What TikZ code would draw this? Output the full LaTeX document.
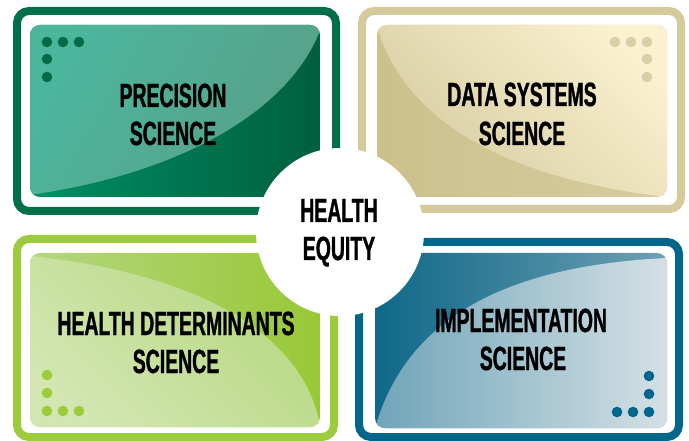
\documentclass[tikz,border=0pt]{standalone}
\usepackage{fontspec}
\newfontfamily\condfont[FakeStretch=0.58,FakeBold=1]{Liberation Sans}
\definecolor{tlframe}{HTML}{00704A}
\definecolor{trframe}{HTML}{D5CA9C}
\definecolor{blframe}{HTML}{9DCB3E}
\definecolor{brframe}{HTML}{00668A}
\definecolor{tldot}{HTML}{006B47}
\definecolor{trdot}{HTML}{D9CFA5}
\definecolor{bldot}{HTML}{9CCB3C}
\definecolor{brdot}{HTML}{00658A}
\begin{document}
\begin{tikzpicture}[x=1pt,y=-1pt,
  frameline/.style={line width=8pt, rounded corners=12pt},
  panel/.style={rounded corners=10pt},
  dot/.style={circle, inner sep=0pt, minimum size=10.6pt},
  lbl/.style={font=\condfont\bfseries\fontsize{33.5}{38}\selectfont, anchor=base, inner sep=0pt, text=black}]
\useasboundingbox (0,0) rectangle (689,441);
\fill[white] (0,0) rectangle (689,441);

% ---------- top left: precision science
\draw[frameline, draw=tlframe] (17,11) rectangle (336,211);
\begin{scope}
  \clip[panel] (30,25) rectangle (320,197);
  \shade[left color={rgb,255:red,0;green,142;blue,98}, right color={rgb,255:red,0;green,95;blue,63}] (30,25) rectangle (320,197);
  \shade[top color={rgb,255:red,76;green,182;blue,157}, bottom color={rgb,255:red,88;green,160;blue,136}, shading angle=60]
    (30,195) .. controls (190,172) and (295,105) .. (322,25) -- (322,20) -- (25,20) -- (25,200) -- cycle;
\end{scope}
\node[dot, fill=tldot] (tld1) at (47,42) {};
\node[dot, fill=tldot] (tld2) at (63,42) {};
\node[dot, fill=tldot] (tld3) at (79,42) {};
\node[dot, fill=tldot] (tld4) at (47,59) {};
\node[dot, fill=tldot] (tld5) at (47,77) {};

% ---------- top right: data systems science
\draw[frameline, draw=trframe] (362,11) rectangle (681,209);
\begin{scope}
  \clip[panel] (377,25) rectangle (667,197);
  \shade[left color={rgb,255:red,204;green,192;blue,140}, right color={rgb,255:red,214;green,204;blue,158}] (377,25) rectangle (667,197);
  \shade[top color={rgb,255:red,250;green,241;blue,208}, bottom color={rgb,255:red,214;green,203;blue,160}, shading angle=-45]
    (378,30) .. controls (410,130) and (520,180) .. (667,197) -- (672,197) -- (672,20) -- (378,20) -- cycle;
\end{scope}
\node[dot, fill=trdot] (trd1) at (615,42) {};
\node[dot, fill=trdot] (trd2) at (631,42) {};
\node[dot, fill=trdot] (trd3) at (647,42) {};
\node[dot, fill=trdot] (trd4) at (647,59) {};
\node[dot, fill=trdot] (trd5) at (647,77) {};

% ---------- bottom left: health determinants science
\draw[frameline, draw=blframe] (17,239) rectangle (334,437);
\begin{scope}
  \clip[panel] (30,253) rectangle (320,427);
  \shade[left color={rgb,255:red,180;green,214;blue,128}, right color={rgb,255:red,152;green,200;blue,54}] (30,253) rectangle (320,427);
  \shade[top color={rgb,255:red,181;green,216;blue,128}, bottom color={rgb,255:red,211;green,230;blue,178}, shading angle=-45]
    (30,256) .. controls (170,270) and (300,320) .. (320,425) -- (325,432) -- (25,432) -- (25,256) -- cycle;
\end{scope}
\node[dot, fill=bldot] (bld1) at (47,375) {};
\node[dot, fill=bldot] (bld2) at (47,393) {};
\node[dot, fill=bldot] (bld3) at (47,411) {};
\node[dot, fill=bldot] (bld4) at (63,411) {};
\node[dot, fill=bldot] (bld5) at (79,411) {};

% ---------- bottom right: implementation science
\draw[frameline, draw=brframe] (359,242) rectangle (679,437);
\begin{scope}
  \clip[panel] (375,253) rectangle (667,428);
  \shade[left color={rgb,255:red,15;green,104;blue,136}, right color={rgb,255:red,110;green,160;blue,180}] (375,253) rectangle (667,428);
  \shade[left color={rgb,255:red,110;green,164;blue,184}, right color={rgb,255:red,214;green,225;blue,230}]
    (376,425) .. controls (410,310) and (520,265) .. (667,258) -- (672,258) -- (672,433) -- (370,433) -- cycle;
\end{scope}
\node[dot, fill=brdot] (brd1) at (649,376) {};
\node[dot, fill=brdot] (brd2) at (649,394) {};
\node[dot, fill=brdot] (brd3) at (649,412) {};
\node[dot, fill=brdot] (brd4) at (633,412) {};
\node[dot, fill=brdot] (brd5) at (617,412) {};

% ---------- hub
\node[circle, fill=white, inner sep=0pt, minimum size=168pt] (hub) at (340,232) {};

% ---------- labels
\node[lbl] (tl1) at (173,107) {PRECISION};
\node[lbl] (tl2) at (173,145) {SCIENCE};
\node[lbl] (tr1) at (522,106) {DATA SYSTEMS};
\node[lbl] (tr2) at (522,145) {SCIENCE};
\node[lbl] (bl1) at (176,335) {HEALTH DETERMINANTS};
\node[lbl] (bl2) at (176,373) {SCIENCE};
\node[lbl] (br1) at (521,332) {IMPLEMENTATION};
\node[lbl] (br2) at (523,370) {SCIENCE};
\node[lbl] (hub1) at (339,222) {HEALTH};
\node[lbl] (hub2) at (339,260) {EQUITY};
\end{tikzpicture}
\end{document}
